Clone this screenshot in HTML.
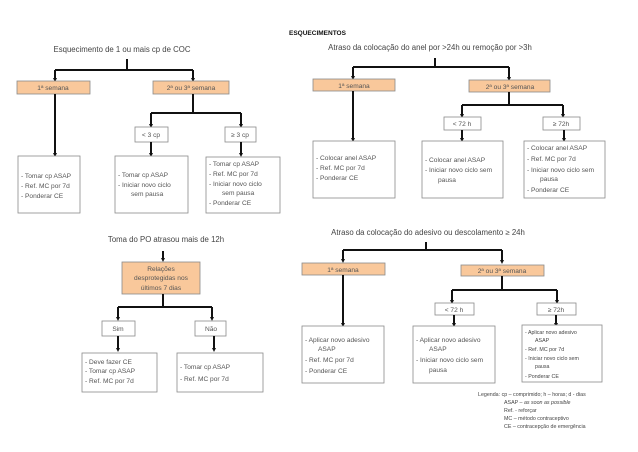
<!DOCTYPE html>
<html><head><meta charset="utf-8"><style>
html,body{margin:0;padding:0;background:#fff;}
svg{display:block;font-family:"Liberation Sans",sans-serif;}
.t{font-size:7.8px;fill:#444;}
.s{font-size:6.6px;fill:#555;}
.l{font-size:5.3px;fill:#444;}
.w{fill:#fff;stroke:#8a8a8a;stroke-width:0.8;}
.o{fill:#f9c89b;stroke:#8a8a8a;stroke-width:0.8;}
.k{stroke:#111;stroke-width:2;fill:none;}
</style></head><body>
<svg width="638" height="452" viewBox="0 0 638 452" xmlns="http://www.w3.org/2000/svg">
<defs><marker id="a" markerWidth="4" markerHeight="4" refX="2" refY="2" orient="auto" markerUnits="userSpaceOnUse" viewBox="0 0 4 4"><path d="M0,0 L4,2 L0,4z" fill="#111"/></marker></defs>
<text x="289" y="35" style="font-size:6.5px;font-weight:bold;fill:#111">ESQUECIMENTOS</text>

<!-- TOP LEFT -->
<text class="t" x="122" y="52" text-anchor="middle">Esquecimento de 1 ou mais cp de COC</text>
<path class="k" d="M127 59 V70 M55 70 H193"/>
<path class="k" d="M55 70 V80" marker-end="url(#a)"/><path class="k" d="M193 70 V80" marker-end="url(#a)"/>
<rect class="o" x="17" y="81" width="73" height="13"/><text class="s" x="53" y="90" text-anchor="middle">1ª semana</text>
<rect class="o" x="153" y="81" width="76" height="13"/><text class="s" x="191" y="90" text-anchor="middle">2ª ou 3ª semana</text>
<path class="k" d="M55 94 V155" marker-end="url(#a)"/>
<path class="k" d="M193 94 V113 M151 113 H241"/>
<path class="k" d="M151 113 V126" marker-end="url(#a)"/><path class="k" d="M241 113 V126" marker-end="url(#a)"/>
<rect class="w" x="135" y="127" width="33" height="15"/><text class="s" x="151" y="137" text-anchor="middle">&lt; 3 cp</text>
<rect class="w" x="225" y="127" width="31" height="15"/><text class="s" x="240" y="137" text-anchor="middle">≥ 3 cp</text>
<path class="k" d="M151 142 V155" marker-end="url(#a)"/><path class="k" d="M241 142 V155" marker-end="url(#a)"/>
<rect class="w" x="18" y="156" width="62" height="57"/>
<text class="s" x="21" y="178">- Tomar cp ASAP</text><text class="s" x="21" y="188">- Ref. MC por 7d</text><text class="s" x="21" y="198">- Ponderar CE</text>
<rect class="w" x="115" y="156" width="73" height="57"/>
<text class="s" x="118" y="177">- Tomar cp ASAP</text><text class="s" x="118" y="187">- Iniciar novo ciclo</text><text class="s" x="131" y="196">sem pausa</text>
<rect class="w" x="206" y="157" width="74" height="56"/>
<text class="s" x="209" y="166">- Tomar cp ASAP</text><text class="s" x="209" y="176">- Ref. MC por 7d</text><text class="s" x="209" y="186">- Iniciar novo ciclo</text><text class="s" x="222" y="195">sem pausa</text><text class="s" x="209" y="205">- Ponderar CE</text>

<!-- TOP RIGHT -->
<text class="t" x="430" y="50" text-anchor="middle">Atraso da colocação do anel por &gt;24h ou remoção por &gt;3h</text>
<path class="k" d="M435 58 V67 M353 67 H509"/>
<path class="k" d="M353 67 V78" marker-end="url(#a)"/><path class="k" d="M509 67 V79" marker-end="url(#a)"/>
<rect class="o" x="313" y="79" width="82" height="12"/><text class="s" x="354" y="88" text-anchor="middle">1ª semana</text>
<rect class="o" x="469" y="80" width="81" height="12"/><text class="s" x="510" y="89" text-anchor="middle">2ª ou 3ª semana</text>
<path class="k" d="M353 91 V140" marker-end="url(#a)"/>
<path class="k" d="M509 92 V105 M462 105 H563"/>
<path class="k" d="M462 105 V116" marker-end="url(#a)"/><path class="k" d="M563 105 V116" marker-end="url(#a)"/>
<rect class="w" x="444" y="117" width="37" height="13"/><text class="s" x="462" y="126" text-anchor="middle">&lt; 72 h</text>
<rect class="w" x="543" y="117" width="37" height="13"/><text class="s" x="561" y="126" text-anchor="middle">≥ 72h</text>
<path class="k" d="M462 130 V140" marker-end="url(#a)"/><path class="k" d="M564 130 V140" marker-end="url(#a)"/>
<rect class="w" x="313" y="141" width="82" height="57"/>
<text class="s" x="316" y="160">- Colocar anel ASAP</text><text class="s" x="316" y="170">- Ref. MC por 7d</text><text class="s" x="316" y="180">- Ponderar CE</text>
<rect class="w" x="422" y="141" width="81" height="57"/>
<text class="s" x="425" y="162">- Colocar anel ASAP</text><text class="s" x="425" y="172">- Iniciar novo ciclo sem</text><text class="s" x="438" y="182">pausa</text>
<rect class="w" x="524" y="141" width="81" height="57"/>
<text class="s" x="527" y="150">- Colocar anel ASAP</text><text class="s" x="527" y="161">- Ref. MC por 7d</text><text class="s" x="527" y="172">- Iniciar novo ciclo sem</text><text class="s" x="540" y="181">pausa</text><text class="s" x="527" y="192">- Ponderar CE</text>

<!-- BOTTOM LEFT -->
<text class="t" x="166" y="242" text-anchor="middle">Toma do PO atrasou mais de 12h</text>
<path class="k" d="M163 251 V260" marker-end="url(#a)"/>
<rect class="o" x="122" y="262" width="78" height="32"/>
<text class="s" x="161" y="271" text-anchor="middle">Relações</text><text class="s" x="161" y="280" text-anchor="middle">desprotegidas nos</text><text class="s" x="161" y="290" text-anchor="middle">últimos 7 dias</text>
<path class="k" d="M163 294 V307 M118 307 H212"/>
<path class="k" d="M118 307 V319" marker-end="url(#a)"/><path class="k" d="M212 307 V319" marker-end="url(#a)"/>
<rect class="w" x="102" y="321" width="33" height="15"/><text class="s" x="118" y="331" text-anchor="middle">Sim</text>
<rect class="w" x="195" y="321" width="31" height="15"/><text class="s" x="211" y="331" text-anchor="middle">Não</text>
<path class="k" d="M118 336 V350" marker-end="url(#a)"/><path class="k" d="M214 336 V350" marker-end="url(#a)"/>
<rect class="w" x="82" y="353" width="75" height="39"/>
<text class="s" x="85" y="364">- Deve fazer CE</text><text class="s" x="85" y="373">- Tomar cp ASAP</text><text class="s" x="85" y="383">- Ref. MC por 7d</text>
<rect class="w" x="177" y="353" width="86" height="39"/>
<text class="s" x="180" y="369">- Tomar cp ASAP</text><text class="s" x="180" y="381">- Ref. MC por 7d</text>

<!-- BOTTOM RIGHT -->
<text class="t" x="428" y="235" text-anchor="middle">Atraso da colocação do adesivo ou descolamento ≥ 24h</text>
<path class="k" d="M426 242 V250 M343 250 H502"/>
<path class="k" d="M343 250 V261" marker-end="url(#a)"/><path class="k" d="M502 250 V262" marker-end="url(#a)"/>
<rect class="o" x="302" y="263" width="83" height="12"/><text class="s" x="343" y="272" text-anchor="middle">1ª semana</text>
<rect class="o" x="461" y="265" width="83" height="11"/><text class="s" x="502" y="273" text-anchor="middle">2ª ou 3ª semana</text>
<path class="k" d="M343 275 V325" marker-end="url(#a)"/>
<path class="k" d="M502 276 V290 M452 290 H557"/>
<path class="k" d="M452 290 V302" marker-end="url(#a)"/><path class="k" d="M557 290 V302" marker-end="url(#a)"/>
<rect class="w" x="435" y="303" width="39" height="12"/><text class="s" x="454" y="312" text-anchor="middle">&lt; 72 h</text>
<rect class="w" x="537" y="303" width="39" height="12"/><text class="s" x="556" y="312" text-anchor="middle">≥ 72h</text>
<path class="k" d="M454 315 V325" marker-end="url(#a)"/><path class="k" d="M556 315 V325" marker-end="url(#a)"/>
<rect class="w" x="302" y="326" width="82" height="57"/>
<text class="s" x="305" y="342">- Aplicar novo adesivo</text><text class="s" x="318" y="351">ASAP</text><text class="s" x="305" y="362">- Ref. MC por 7d</text><text class="s" x="305" y="373">- Ponderar CE</text>
<rect class="w" x="413" y="326" width="82" height="57"/>
<text class="s" x="416" y="342">- Aplicar novo adesivo</text><text class="s" x="429" y="351">ASAP</text><text class="s" x="416" y="362">- Iniciar novo ciclo sem</text><text class="s" x="429" y="372">pausa</text>
<rect class="w" x="522" y="325" width="80" height="57"/>
<text class="l" x="525" y="334">- Aplicar novo adesivo</text><text class="l" x="535" y="342">ASAP</text><text class="l" x="525" y="351">- Ref. MC por 7d</text><text class="l" x="525" y="360">- Iniciar novo ciclo sem</text><text class="l" x="535" y="368">pausa</text><text class="l" x="525" y="378">- Ponderar CE</text>

<text class="l" x="478" y="396">Legenda: cp – comprimido; h – horas; d - dias</text>
<text class="l" x="504" y="404">ASAP – <tspan font-style="italic">as soon as possible</tspan></text>
<text class="l" x="504" y="412">Ref. - reforçar</text>
<text class="l" x="504" y="420">MC – método contraceptivo</text>
<text class="l" x="504" y="428">CE – contracepção de emergência</text>
</svg>
</body></html>
